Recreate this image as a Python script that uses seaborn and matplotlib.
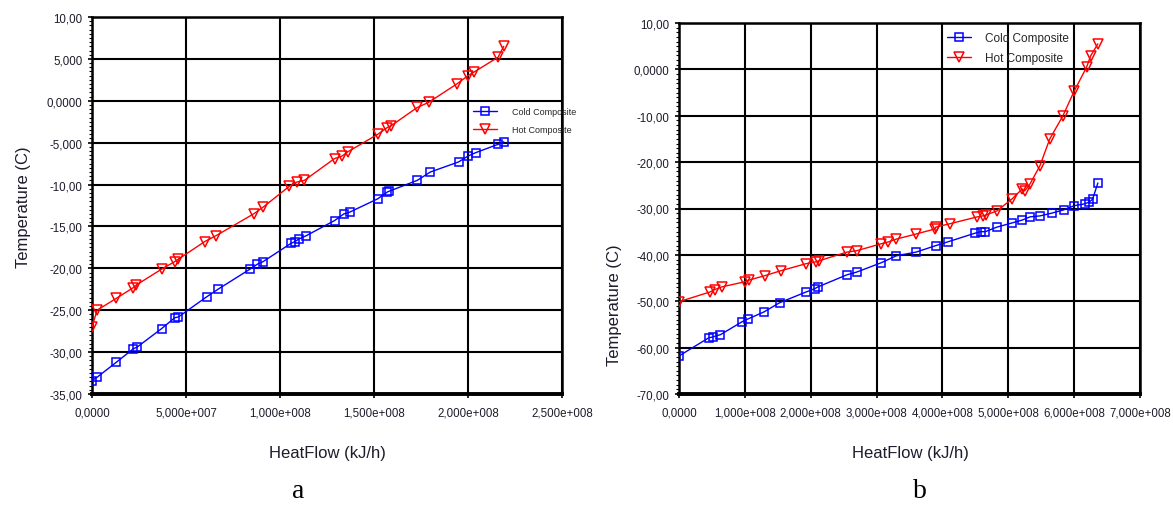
import matplotlib
matplotlib.use("Agg")
import matplotlib.pyplot as plt
from matplotlib.ticker import AutoMinorLocator
from matplotlib.lines import Line2D
import seaborn as sns
import pandas as pd

# ---------------- data (panel a) ----------------
a_hot_x = [0.0, 0.027e8, 0.128e8, 0.22e8, 0.235e8, 0.37e8, 0.44e8, 0.46e8, 0.60e8, 0.66e8,
           0.86e8, 0.91e8, 1.05e8, 1.09e8, 1.13e8, 1.29e8, 1.33e8, 1.36e8, 1.52e8, 1.57e8,
           1.59e8, 1.73e8, 1.79e8, 1.94e8, 2.00e8, 2.03e8, 2.16e8, 2.19e8]
a_hot_y = [-27.0, -25.0, -23.6, -22.3, -22.0, -20.1, -19.2, -18.9, -16.8, -16.1,
           -13.5, -12.7, -10.2, -9.7, -9.5, -6.9, -6.6, -6.1, -4.0, -3.2,
           -3.0, -0.8, -0.2, 2.0, 3.0, 3.4, 5.2, 6.5]
a_cold_x = [0.0, 0.027e8, 0.13e8, 0.22e8, 0.24e8, 0.37e8, 0.44e8, 0.46e8, 0.61e8, 0.67e8,
            0.84e8, 0.88e8, 0.91e8, 1.06e8, 1.08e8, 1.10e8, 1.14e8, 1.29e8, 1.34e8, 1.37e8,
            1.52e8, 1.57e8, 1.58e8, 1.73e8, 1.80e8, 1.95e8, 2.00e8, 2.04e8, 2.16e8, 2.19e8]
a_cold_y = [-33.4, -33.0, -31.2, -29.6, -29.4, -27.2, -25.9, -25.8, -23.4, -22.5,
            -20.1, -19.5, -19.2, -17.0, -16.8, -16.5, -16.1, -14.3, -13.5, -13.3,
            -11.7, -10.9, -10.8, -9.5, -8.5, -7.3, -6.6, -6.2, -5.2, -4.9]

# ---------------- data (panel b) ----------------
b_hot_x = [0.0, 0.47e8, 0.54e8, 0.65e8, 1.0e8, 1.07e8, 1.3e8, 1.55e8, 1.93e8, 2.08e8,
           2.12e8, 2.55e8, 2.7e8, 3.07e8, 3.18e8, 3.3e8, 3.6e8, 3.89e8, 3.9e8, 4.11e8,
           4.53e8, 4.61e8, 4.66e8, 4.83e8, 5.06e8, 5.21e8, 5.25e8, 5.33e8, 5.48e8, 5.63e8,
           5.83e8, 6.0e8, 6.19e8, 6.25e8, 6.36e8]
b_hot_y = [-50.1, -48.0, -47.5, -46.9, -45.8, -45.4, -44.5, -43.4, -41.9, -41.5,
           -41.3, -39.4, -39.1, -37.6, -37.2, -36.6, -35.5, -34.4, -34.0, -33.3,
           -31.8, -31.6, -31.4, -30.5, -27.9, -25.8, -26.2, -24.7, -20.8, -15.0,
           -10.0, -4.7, 0.5, 2.9, 5.5]
b_cold_x = [0.0, 0.45e8, 0.51e8, 0.63e8, 0.96e8, 1.05e8, 1.29e8, 1.53e8, 1.93e8, 2.06e8,
            2.11e8, 2.55e8, 2.7e8, 3.07e8, 3.3e8, 3.6e8, 3.9e8, 4.08e8, 4.5e8, 4.58e8,
            4.65e8, 4.83e8, 5.06e8, 5.21e8, 5.33e8, 5.48e8, 5.66e8, 5.84e8, 6.0e8, 6.16e8,
            6.23e8, 6.28e8, 6.36e8]
b_cold_y = [-61.8, -57.9, -57.7, -57.2, -54.4, -53.8, -52.3, -50.3, -48.0, -47.3,
            -46.9, -44.3, -43.7, -41.7, -40.2, -39.4, -38.0, -37.2, -35.3, -35.0,
            -35.0, -34.0, -33.1, -32.5, -31.8, -31.6, -31.0, -30.3, -29.4, -29.0,
            -28.6, -28.0, -24.5]

series_names = ["Cold Composite", "Hot Composite"]

a_xticks = [0, 0.5e8, 1.0e8, 1.5e8, 2.0e8, 2.5e8]
a_xticklabels = ["0,0000", "5,000e+007", "1,000e+008", "1,500e+008", "2,000e+008", "2,500e+008"]
a_yticks = [10, 5, 0, -5, -10, -15, -20, -25, -30, -35]
a_yticklabels = ["10,00", "5,000", "0,0000", "-5,000", "-10,00", "-15,00", "-20,00",
                 "-25,00", "-30,00", "-35,00"]

b_xticks = [0, 1e8, 2e8, 3e8, 4e8, 5e8, 6e8, 7e8]
b_xticklabels = ["0,0000", "1,000e+008", "2,000e+008", "3,000e+008", "4,000e+008",
                 "5,000e+008", "6,000e+008", "7,000e+008"]
b_yticks = [10, 0, -10, -20, -30, -40, -50, -60, -70]
b_yticklabels = ["10,00", "0,0000", "-10,00", "-20,00", "-30,00", "-40,00", "-50,00",
                 "-60,00", "-70,00"]

xlabel = "HeatFlow (kJ/h)"
ylabel = "Temperature (C)"
panel_labels = ["a", "b"]

# ---------------- style ----------------
sns.set_theme(style="white")
plt.rcParams['font.family'] = ['Liberation Sans', 'DejaVu Sans']

BLUE = "#0000ff"
RED = "#ff0000"
TICKC = "#1c1c2c"

W, H = 1173, 506
fig = plt.figure(figsize=(W / 100, H / 100), dpi=100)
fig.patch.set_facecolor("white")

ax_a = fig.add_axes([92 / W, 1 - 395 / H, 470 / W, 377 / H])
ax_b = fig.add_axes([679 / W, 1 - 395 / H, 461 / W, 371 / H])


def draw(ax, cx, cy, hx, hy):
    dc = pd.DataFrame({"x": cx, "y": cy})
    dh = pd.DataFrame({"x": hx, "y": hy})
    sns.lineplot(data=dc, x="x", y="y", ax=ax, color=BLUE, marker="s", markersize=6,
                 markerfacecolor="none", markeredgecolor=BLUE, markeredgewidth=1.1,
                 linewidth=1.0, sort=False, estimator=None, zorder=3)
    sns.lineplot(data=dh, x="x", y="y", ax=ax, color=RED, marker="v", markersize=7,
                 markerfacecolor="none", markeredgecolor=RED, markeredgewidth=1.1,
                 linewidth=1.0, sort=False, estimator=None, zorder=3)


def style(ax, xticks, xtl, yticks, ytl, xmax, ymin, ymax, ylab_coords, xlab_coords):
    ax.set_xlim(0, xmax)
    ax.set_ylim(ymin, ymax)
    ax.set_xticks(xticks)
    ax.set_xticklabels(xtl, fontsize=8.3, color=TICKC)
    ax.set_yticks(yticks)
    ax.set_yticklabels(ytl, fontsize=8.3, color=TICKC)
    ax.yaxis.set_minor_locator(AutoMinorLocator(10))
    ax.tick_params(axis="both", which="major", direction="out", length=3, width=1.2,
                   color="black", bottom=True, left=True, pad=4)
    ax.tick_params(axis="x", which="major", pad=6)
    ax.tick_params(axis="y", which="minor", direction="out", length=2, width=0.8,
                   color="black", left=True)
    ax.grid(True, which="major", color="black", linewidth=1.5)
    for side in ["top", "right", "left"]:
        ax.spines[side].set_visible(True)
        ax.spines[side].set_color("black")
        ax.spines[side].set_linewidth(1.8)
    ax.spines["bottom"].set_color("black")
    ax.spines["bottom"].set_linewidth(2.8)
    ax.set_facecolor("white")
    ax.set_xlabel(xlabel, fontsize=12, color="#1c1c2c")
    ax.set_ylabel(ylabel, fontsize=12, color="#1c1c2c")
    ax.yaxis.set_label_coords(*ylab_coords)
    ax.xaxis.set_label_coords(*xlab_coords)


draw(ax_a, a_cold_x, a_cold_y, a_hot_x, a_hot_y)
draw(ax_b, b_cold_x, b_cold_y, b_hot_x, b_hot_y)

style(ax_a, a_xticks, a_xticklabels, a_yticks, a_yticklabels, 2.5e8, -35, 10,
      (-0.13, 0.499), (0.5, -0.135))
style(ax_b, b_xticks, b_xticklabels, b_yticks, b_yticklabels, 7e8, -70, 10,
      (-0.124, 0.243), (0.501, -0.137))

handles = [
    Line2D([], [], color=BLUE, marker="s", markersize=6, markerfacecolor="none",
           markeredgecolor=BLUE, markeredgewidth=1.1, linewidth=1.0),
    Line2D([], [], color=RED, marker="v", markersize=7, markerfacecolor="none",
           markeredgecolor=RED, markeredgewidth=1.1, linewidth=1.0),
]

ax_a.legend(handles, series_names, loc="upper left",
            bbox_to_anchor=(473 / W, 1 - 108 / H), bbox_transform=fig.transFigure,
            frameon=False, fontsize=6.5, borderpad=0, borderaxespad=0,
            handlelength=2.7, handletextpad=1.6, labelspacing=1.0)
ax_b.legend(handles, series_names, loc="upper left",
            bbox_to_anchor=(947 / W, 1 - 33 / H), bbox_transform=fig.transFigure,
            frameon=False, fontsize=8.5, borderpad=0, borderaxespad=0,
            handlelength=2.0, handletextpad=1.2, labelspacing=0.65)

fig.text(298 / W, 2 / H, panel_labels[0], family=["Liberation Serif", "DejaVu Serif"],
         fontsize=20, ha="center", va="bottom", color="black")
fig.text(920 / W, 2 / H, panel_labels[1], family=["Liberation Serif", "DejaVu Serif"],
         fontsize=20, ha="center", va="bottom", color="black")

fig.savefig("out.png", dpi=100, facecolor="white")
